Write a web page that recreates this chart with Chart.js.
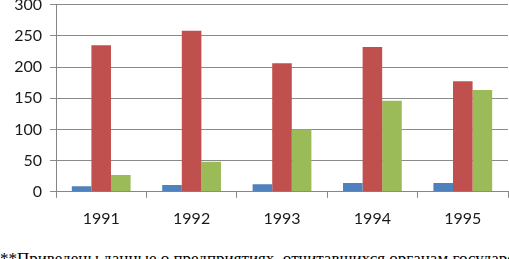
<!DOCTYPE html>
<html>
<head>
<meta charset="utf-8">
<script src="https://cdn.jsdelivr.net/npm/chart.js@4"></script>
<style>
  html, body { margin: 0; padding: 0; background: #fff; overflow: hidden; }
  #wrap { position: absolute; left: 0; top: -13px; width: 509px; height: 252px; }
  #note {
    position: absolute; left: 0; top: 249px; width: 509px;
    white-space: nowrap; overflow: hidden;
    font-family: "Liberation Serif", "Times New Roman", serif; font-size: 17px; color: #000;
  }
</style>
</head>
<body>
<div id="wrap"><canvas id="chart"></canvas></div>
<div id="note">**Приведены данные о предприятиях, отчитавшихся органам государственной статистики</div>
<script>
// данные по годам
const years = ['1991', '1992', '1993', '1994', '1995'];
const seriesBlue = [9, 11, 12, 14, 14];
const seriesRed = [235, 258, 206, 232, 177];
const seriesGreen = [27, 48, 100, 146, 163];
const yTicks = [0, 50, 100, 150, 200, 250, 300];

const ctx = document.getElementById('chart').getContext('2d');
const chart = new Chart(ctx, {
    type: 'bar',
    data: {
        labels: years,
        datasets: [
            { label: 'Ряд 1', data: seriesBlue, backgroundColor: '#4F81BD' },
            { label: 'Ряд 2', data: seriesRed, backgroundColor: '#C0504D' },
            { label: 'Ряд 3', data: seriesGreen, backgroundColor: '#9BBB59' }
        ]
    },
    options: {
        responsive: true,
        maintainAspectRatio: false,
        animation: false,
        datasets: { bar: { categoryPercentage: 0.65, barPercentage: 1.0 } },
        layout: { padding: { left: 0, right: 1, top: 0, bottom: 0 } },
        plugins: {
            legend: { display: false },
            tooltip: { enabled: false }
        },
        scales: {
            x: {
                grid: { drawOnChartArea: false, drawTicks: true, tickLength: 6, color: '#868686' },
                border: { color: '#868686' },
                ticks: { color: '#1a1a1a', font: { family: 'Lato', size: 16 }, padding: 11 }
            },
            y: {
                min: 0,
                max: 300,
                afterBuildTicks: (axis) => { axis.ticks = yTicks.map(v => ({ value: v })); },
                afterFit: (axis) => { axis.width = 56; },  // ось Y на x=56, как в оригинале
                grid: { color: '#8a8a8a', tickLength: 6 },
                border: { color: '#868686' },
                ticks: { color: '#1a1a1a', font: { family: 'Lato', size: 16 }, padding: 8 }
            }
        }
    }
});
</script>
</body>
</html>
